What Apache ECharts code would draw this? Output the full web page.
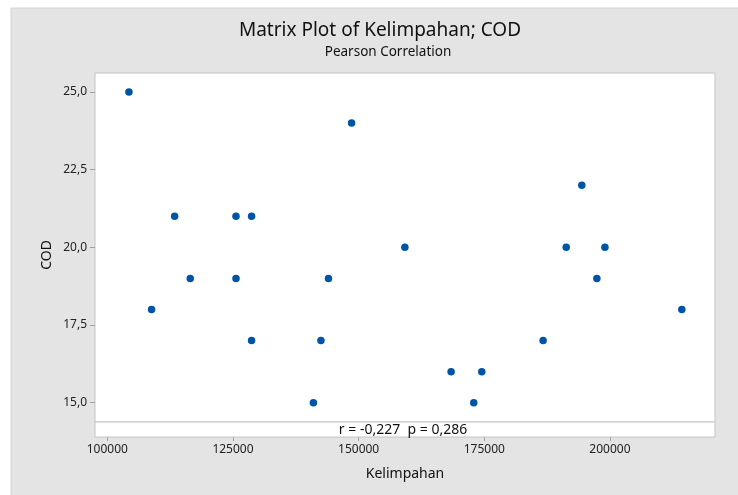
<!DOCTYPE html>
<html>
<head>
<meta charset="utf-8">
<script src="https://cdn.jsdelivr.net/npm/echarts@6/dist/echarts.min.js"></script>
<style>
html,body{margin:0;padding:0;background:#fff;}
#chart{width:738px;height:495px;}
</style>
</head>
<body>
<div id="chart"></div>
<script>
const kelimpahan = [104300, 108800, 113400, 116500, 125600, 125600, 128700, 128700, 141000, 142500, 144000, 148600, 159200, 168400, 172900, 174500, 186700, 191300, 194400, 197400, 199000, 214300];
const cod = [25, 18, 21, 19, 21, 19, 21, 17, 15, 17, 19, 24, 20, 16, 15, 16, 17, 20, 22, 19, 20, 18];
const xTickValues = [100000, 125000, 150000, 175000, 200000];
const yTickValues = [15, 17.5, 20, 22.5, 25];
const titleText = 'Matrix Plot of Kelimpahan; COD';
const subtitleText = 'Pearson Correlation';
const statText = 'r = -0,227\u00a0\u00a0p = 0,286';
const xName = 'Kelimpahan';
const yName = 'COD';

const FONT = 'Noto Sans';
const chart = echarts.init(document.getElementById('chart'));
const points = kelimpahan.map((x, i) => [x, cod[i]]);

chart.setOption({
  backgroundColor: '#fff',
  animation: false,
  graphic: [
    { type: 'rect', z: -10, shape: { x: 11, y: 8, width: 740, height: 500 },
      style: { fill: '#e4e4e4', stroke: '#d2d2d2', lineWidth: 1 } },
    { type: 'text', style: { text: titleText, x: 380, y: 31, align: 'center', verticalAlign: 'middle', font: '19px "' + FONT + '"', fill: '#111' } },
    { type: 'text', style: { text: subtitleText, x: 388, y: 52, align: 'center', verticalAlign: 'middle', font: '13.5px "' + FONT + '"', fill: '#111' } },
    { type: 'rect', z: 5, shape: { x: 95, y: 422, width: 620, height: 15 },
      style: { fill: '#fff', stroke: '#c4c4c4', lineWidth: 1 } },
    { type: 'text', z: 6, style: { text: statText, x: 403, y: 430, align: 'center', verticalAlign: 'middle', font: '14px "' + FONT + '"', fill: '#111' } },
    { type: 'text', style: { text: yName, x: 47, y: 255, align: 'center', verticalAlign: 'middle', font: '14px "' + FONT + '"', fill: '#111' }, rotation: Math.PI / 2, x: 0, y: 0, originX: 47, originY: 255 }
  ],
  grid: {
    left: 95, right: 23, top: 73, bottom: 73,
    show: true, backgroundColor: '#fff', borderColor: '#c4c4c4', borderWidth: 1
  },
  xAxis: {
    type: 'value', min: 97550, max: 220900, offset: 15,
    name: xName, nameLocation: 'middle', nameGap: 30,
    nameTextStyle: { fontFamily: FONT, fontSize: 14, color: '#111' },
    axisLine: { show: false },
    splitLine: { show: false },
    axisTick: { show: true, length: 4, lineStyle: { color: '#a0a0a0' }, customValues: xTickValues },
    axisLabel: { customValues: xTickValues, margin: 7, fontFamily: FONT, fontSize: 12, color: '#222', formatter: v => String(v) }
  },
  yAxis: {
    type: 'value', min: 14.38, max: 25.61,
    axisLine: { show: false },
    splitLine: { show: false },
    axisTick: { show: true, length: 5, lineStyle: { color: '#a0a0a0' }, customValues: yTickValues },
    axisLabel: { customValues: yTickValues, margin: 8, fontFamily: FONT, fontSize: 12, color: '#222', formatter: v => v.toFixed(1).replace('.', ',') }
  },
  series: [{
    type: 'scatter', data: points, symbol: 'circle', symbolSize: 7.5,
    itemStyle: { color: '#0054a6', opacity: 1 }, z: 3
  }]
});
</script>
</body>
</html>
